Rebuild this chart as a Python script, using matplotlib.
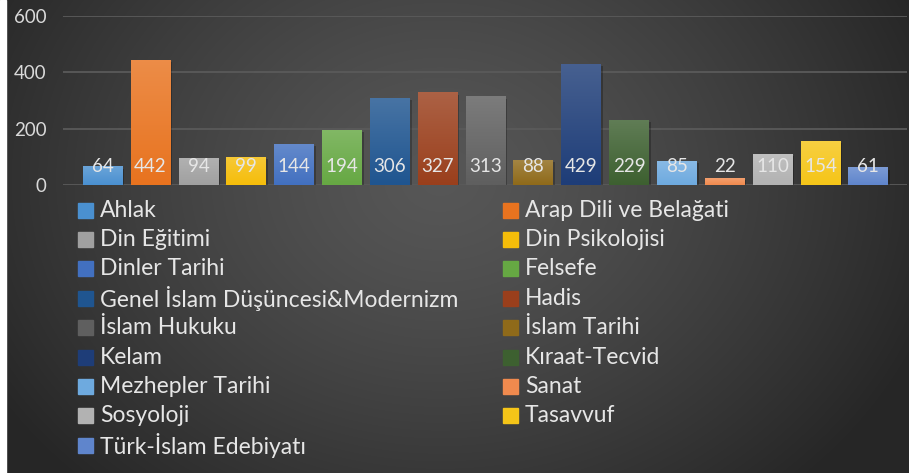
import numpy as np
import matplotlib
matplotlib.use('Agg')
import matplotlib.pyplot as plt
from matplotlib.colors import to_rgb
from matplotlib.patches import Rectangle

plt.rcParams['font.family'] = ['Lato', 'DejaVu Sans']

konular = ['Ahlak', 'Arap Dili ve Belağati', 'Din Eğitimi', 'Din Psikolojisi',
           'Dinler Tarihi', 'Felsefe', 'Genel İslam Düşüncesi&Modernizm', 'Hadis',
           'İslam Hukuku', 'İslam Tarihi', 'Kelam', 'Kıraat-Tecvid',
           'Mezhepler Tarihi', 'Sanat', 'Sosyoloji', 'Tasavvuf', 'Türk-İslam Edebiyatı']
sayilar = [64, 442, 94, 99, 144, 194, 306, 327, 313, 88, 429, 229, 85, 22, 110, 154, 61]
renkler = ['#4a90d0', '#e8731f', '#a0a0a0', '#f5bd0a', '#4270c0', '#66a843', '#1f5590',
           '#9a3f1c', '#5f5f5f', '#8f6a1a', '#1e3d78', '#3d6030', '#6eaadf', '#f08a4e',
           '#b2b2b2', '#f5c518', '#5f85cc']
yticks = [0, 200, 400, 600]

W, H = 909, 473
fig = plt.figure(figsize=(W / 100, H / 100), dpi=100)

# background: radial gradient
bg = fig.add_axes([0, 0, 1, 1], zorder=-5)
yy, xx = np.mgrid[0:H, 0:W]
d = np.sqrt(((xx - 440) / 520.0) ** 2 + ((yy - 180) / 420.0) ** 2)
d = np.clip(d, 0, 1)
g = 0.34 - 0.19 * d ** 1.3
img = np.dstack([g, g, g])
bg.imshow(img, extent=[0, W, H, 0], aspect='auto')
bg.add_patch(Rectangle((0, 0), 6, H, color='white'))
bg.set_xlim(0, W)
bg.set_ylim(H, 0)
bg.axis('off')

ax = fig.add_axes([63 / W, 1 - 185 / H, (907 - 63) / W, (185 - 16) / H])
ax.set_facecolor('none')
x = np.arange(len(sayilar))
bars = ax.bar(x, sayilar, width=0.83, color=renkler, zorder=3)

# gradient overlay on each bar, lighter at the top
for b, c in zip(bars, renkler):
    base = np.array(to_rgb(c))
    top = base + (1 - base) * 0.18
    t = np.linspace(0, 1, 64)[:, None]
    grad = top[None, :] * (1 - t) + base[None, :] * t
    grad = grad[:, None, :]
    x0, w, h = b.get_x(), b.get_width(), b.get_height()
    ax.add_patch(Rectangle((x0 + 0.04, -6), w, h, color='black', alpha=0.25, zorder=2, lw=0))
    ax.imshow(grad, extent=[x0, x0 + w, 0, h], aspect='auto', zorder=4)

for xi, v in zip(x, sayilar):
    ax.annotate(str(v), (xi, 0), xytext=(0, 9.4), textcoords='offset points',
                ha='center', va='baseline', color='#e6e6e6', fontsize=13.5, zorder=6)

ax.set_xlim(-0.83, 16.81)
ax.set_ylim(0, 600)
ax.set_yticks(yticks)
ax.yaxis.grid(True, color='#5a5a5a', lw=1.3, zorder=0)
ax.tick_params(axis='y', length=0, colors='#d9d9d9', labelsize=13.5, pad=12)
ax.set_xticks([])
for s in ax.spines.values():
    s.set_visible(False)

# legend, filled row by row like the original, evenly spaced rows
lax = fig.add_axes([0, 0, 1, 1], zorder=5)
lax.set_xlim(0, W)
lax.set_ylim(H, 0)
lax.axis('off')
for i, (ad, c) in enumerate(zip(konular, renkler)):
    row, col = divmod(i, 2)
    yc = 210 + row * 29.4
    mx = 78 if col == 0 else 503
    lax.add_patch(Rectangle((mx, yc - 7.5), 15, 15, color=c))
    lax.text(mx + 22, yc, ad, va='center', ha='left', color='#e6e6e6', fontsize=16.5)

fig.savefig('out.png', dpi=100)
